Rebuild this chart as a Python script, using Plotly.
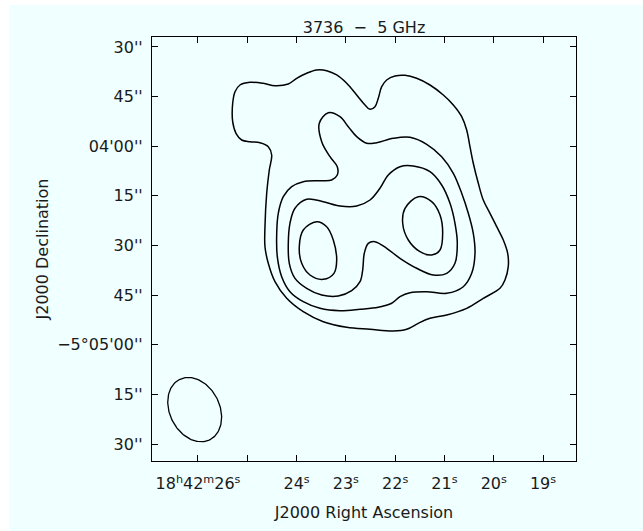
import numpy as np
import plotly.graph_objects as go

# ---------------- data (RA seconds past 18h42m, Dec arcsec offset from -5d04'00") ----------------
# Contour 1 (outermost)
c1_ra = [24.945, 24.742, 24.574, 24.505, 24.553, 24.606, 24.641, 24.641, 24.574, 24.438,
         24.200, 23.864, 23.458, 22.983, 22.510, 22.038, 21.766, 21.531, 21.293, 20.954,
         20.549, 20.212, 19.873, 19.772, 19.705, 19.717, 19.806, 19.940, 20.076, 20.212,
         20.313, 20.415, 20.482, 20.549, 20.650, 20.820, 21.023, 21.293, 21.563, 21.800,
         22.003, 22.172, 22.273, 22.342, 22.409, 22.510, 22.612, 22.780, 22.983, 23.186,
         23.389, 23.592, 23.795, 23.998, 24.168, 24.438, 24.675, 24.945, 25.148, 25.249,
         25.296, 25.296, 25.229, 25.113]
c1_dec = [1.37, 1.07, -0.14, -2.65, -7.18, -14.22, -24.32, -30.37, -35.38, -40.94,
          -45.96, -50.01, -53.04, -54.73, -55.33, -55.85, -55.33, -53.52, -52.01, -51.01,
          -48.99, -45.96, -42.94, -40.43, -36.41, -32.36, -28.34, -24.32, -20.27, -16.25,
          -11.20, -5.15, -0.14, 4.91, 8.93, 12.47, 15.49, 18.51, 20.54, 21.45,
          21.23, 20.02, 18.00, 14.49, 11.95, 11.17, 12.47, 15.49, 19.03, 21.54,
          22.84, 23.05, 22.05, 20.54, 18.82, 18.30, 19.03, 19.33, 18.51, 16.49,
          12.98, 7.42, 3.91, 1.89]

# Contour 2
c2_ra = [23.356, 23.119, 22.951, 22.780, 22.577, 22.375, 22.038, 21.699, 21.360, 21.056,
         20.820, 20.650, 20.516, 20.415, 20.380, 20.447, 20.618, 20.954, 21.360, 21.699,
         21.902, 22.070, 22.342, 22.713, 23.119, 23.525, 23.864, 24.134, 24.302, 24.391,
         24.403, 24.371, 24.269, 24.099, 23.864, 23.525, 23.287, 23.174, 23.174, 23.322,
         23.490, 23.539]
c2_dec = [10.14, 8.93, 5.91, 2.89, 0.89, 1.07, 2.40, 2.70, 0.59, -3.16,
          -8.18, -14.22, -20.27, -26.32, -32.36, -38.41, -42.46, -44.45, -43.97, -44.27,
          -45.48, -47.47, -48.68, -49.29, -49.71, -48.99, -46.99, -43.97, -39.43, -33.39,
          -26.32, -20.27, -15.25, -12.23, -10.72, -10.41, -10.20, -8.69, -6.18, -3.16,
          1.37, 6.94]

# Contour 3
c3_ra = [23.795, 23.458, 23.119, 22.780, 22.510, 22.308, 22.139, 21.902, 21.632, 21.293,
         21.056, 20.887, 20.786, 20.739, 20.786, 20.954, 21.226, 21.563, 21.902, 22.172,
         22.409, 22.545, 22.626, 22.659, 22.713, 22.882, 23.154, 23.490, 23.795, 24.032,
         24.148, 24.168, 24.134, 24.032]
c3_dec = [-16.04, -16.76, -18.06, -18.06, -16.25, -12.71, -8.69, -6.18, -5.97, -7.69,
          -11.71, -17.25, -23.29, -29.34, -35.38, -38.41, -38.92, -36.89, -33.87, -30.85,
          -28.85, -29.34, -32.36, -37.41, -40.94, -43.67, -45.27, -44.97, -42.94, -39.92,
          -35.38, -29.34, -23.29, -18.76]

# Contour 4, eastern peak
c4a_ra = [23.592, 23.389, 23.255, 23.186, 23.241, 23.458, 23.728, 23.896, 23.945, 23.864]
c4a_dec = [-22.81, -24.32, -28.34, -34.39, -38.41, -40.22, -38.92, -35.38, -30.37, -25.32]

# Contour 4, western peak
c4b_ra = [21.531, 21.259, 21.090, 21.036, 21.090, 21.259, 21.496, 21.733, 21.847, 21.800]
c4b_dec = [-15.25, -16.76, -20.78, -26.32, -31.36, -32.87, -31.88, -28.34, -23.29, -18.76]

# Restoring beam (FWHM arcsec, PA deg east of north) and its centre
beam_major = 20.4
beam_minor = 15.1
beam_pa = 27.0
beam_ra = 26.067
beam_dec = -79.6
dec_deg = -5.07

# Axis ticks
x_tickvals = [26, 25, 24, 23, 22, 21, 20, 19]
x_ticktext = ["18<sup>h</sup>42<sup>m</sup>26<sup>s</sup>", "", "24<sup>s</sup>", "23<sup>s</sup>",
              "22<sup>s</sup>", "21<sup>s</sup>", "20<sup>s</sup>", "19<sup>s</sup>"]
y_tickvals = [30, 15, 0, -15, -30, -45, -60, -75, -90]
y_ticktext = ["30''", "45''", "04'00''", "15''", "30''", "45''", "\u22125\u00b005'00''", "15''", "30''"]

x_range = [26.933, 18.331]
y_range = [-95.14, 33.02]

BG = "#F0FFFF"
FONT = "DejaVu Sans, Verdana, sans-serif"
TXT = "#1a1a1a"
FS = 16

fig = go.Figure()

for ra, dec in [(c1_ra, c1_dec), (c2_ra, c2_dec), (c3_ra, c3_dec), (c4a_ra, c4a_dec), (c4b_ra, c4b_dec)]:
    fig.add_trace(go.Scatter(
        x=ra + ra[:1], y=dec + dec[:1], mode="lines",
        line=dict(color="black", width=1.5, shape="spline", smoothing=1.0),
        hoverinfo="skip", showlegend=False))

# beam ellipse
t = np.linspace(0, 2 * np.pi, 181)
a = beam_major / 2
b = beam_minor / 2
pa = np.deg2rad(beam_pa)
u = a * np.cos(t)
v = b * np.sin(t)
east = u * np.sin(pa) + v * np.cos(pa)
north = u * np.cos(pa) - v * np.sin(pa)
sec_arc = 15 * np.cos(np.deg2rad(dec_deg))
fig.add_trace(go.Scatter(
    x=beam_ra + east / sec_arc, y=beam_dec + north, mode="lines",
    line=dict(color="black", width=1.3), hoverinfo="skip", showlegend=False))

axis_common = dict(
    showgrid=False, zeroline=False, showline=True, linecolor="black", linewidth=1.2,
    mirror="ticks", ticks="inside", ticklen=6, tickcolor="black", tickwidth=1,
    tickfont=dict(family=FONT, size=FS, color=TXT),
)

fig.update_xaxes(range=x_range, tickmode="array", tickvals=x_tickvals, ticktext=x_ticktext,
                 ticklabelstandoff=8,
                 title=dict(text="J2000 Right Ascension", font=dict(family=FONT, size=FS, color=TXT),
                            standoff=14),
                 **axis_common)
fig.update_yaxes(range=y_range, tickmode="array", tickvals=y_tickvals, ticktext=y_ticktext,
                 ticklabelstandoff=5,
                 title=dict(text="J2000 Declination", font=dict(family=FONT, size=FS, color=TXT),
                            standoff=4),
                 **axis_common)

W, H = 643, 531
L, R, T, B = 152, 67, 37, 70
pw = W - L - R
ph = H - T - B

# white border strips of the original frame (left & top)
fig.add_shape(type="rect", xref="paper", yref="paper", x0=-L / pw, x1=(9 - L) / pw,
              y0=-B / ph, y1=(H - B) / ph, fillcolor="white", line_width=0, layer="below")
fig.add_shape(type="rect", xref="paper", yref="paper", x0=-L / pw, x1=(W - L) / pw,
              y0=(H - B - 5) / ph, y1=(H - B) / ph, fillcolor="white", line_width=0, layer="below")

fig.update_layout(
    width=W, height=H,
    margin=dict(l=L, r=R, t=T, b=B, pad=0),
    paper_bgcolor=BG, plot_bgcolor=BG,
    title=dict(text="3736\u00a0\u00a0\u2212\u00a0\u00a05\u00a0GHz", x=(L + pw / 2) / W, xanchor="center",
               y=1 - 27 / H, yanchor="middle",
               font=dict(family=FONT, size=FS, color=TXT)),
    showlegend=False,
)

fig.write_html("out.html")
